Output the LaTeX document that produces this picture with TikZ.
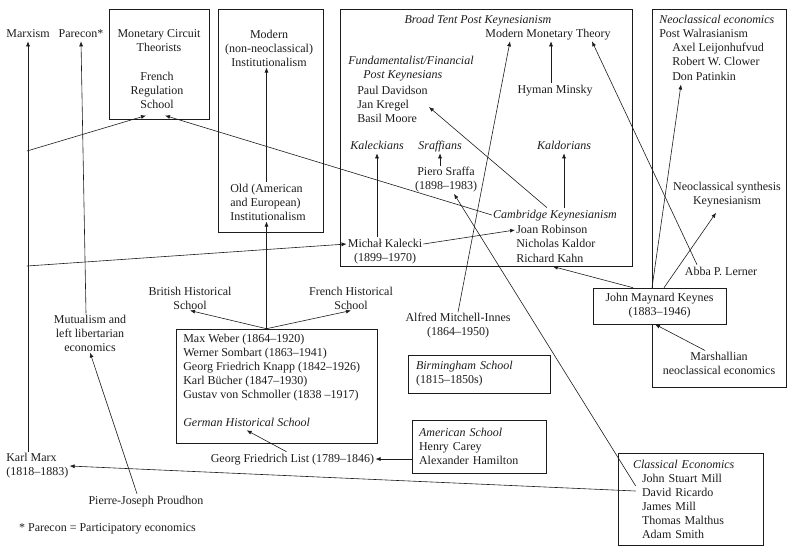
\documentclass[tikz,border=0pt]{standalone}
\usepackage{fontspec}
\setmainfont{Liberation Serif}
\usetikzlibrary{arrows.meta,positioning}
\definecolor{chartink}{HTML}{1C1C1C}
\tikzset{every picture/.append style={color=chartink}}
\newcommand{\chartfont}{\fontsize{12}{14}\selectfont}

\begin{document}
\begin{tikzpicture}[
  x=1pt, y=-1pt,
  >={Latex[length=5pt,width=4pt]},
  every path/.style={line width=0.6pt},
  frame/.style={draw, line width=0.6pt, inner sep=0pt},
  entry/.style={inner sep=1pt, text height=9pt, text depth=3pt, font=\chartfont},
  school/.style={entry, font=\chartfont\itshape},
  group/.style={inner sep=1pt, align=center, font=\chartfont},
]
\useasboundingbox (0,0) rectangle (799,558);

% --- Outer frames ---
\node[frame, minimum width=100pt, minimum height=110pt] (mctbox)     at (159,64)    {};
\node[frame, minimum width=105pt, minimum height=223pt] (instbox)    at (270.5,120.5) {};
\node[frame, minimum width=292pt, minimum height=257pt] (pkbox)      at (486,137.5) {};
\node[frame, minimum width=134pt, minimum height=378pt] (neobox)     at (719,198)   {};
\node[frame, minimum width=201pt, minimum height=114pt] (germanbox)  at (276.5,386) {};

% --- Top left ---
\node[entry] (marxism) at (28,34) {Marxism};
\node[entry] (parecon) at (81,34) {Parecon*};
\node[group] (mct) at (159,41) {Monetary Circuit\\Theorists};
\node[group] (frs) at (157,90) {French\\Regulation\\School};
\node[group] (modinst) at (269,48) {Modern\\(non-neoclassical)\\Institutionalism};
\node[group, align=left, anchor=west] (oldinst) at (229,202)
  {Old (American\\and European)\\Institutionalism};

% --- Post Keynesian frame ---
\node[school] (broad) at (478,20) {Broad Tent Post Keynesianism};
\node[entry] (mmt) at (548,34) {Modern Monetary Theory};
\node[group, align=left, anchor=west, font=\chartfont\itshape] (fund) at (347,69)
  {Fundamentalist/Financial\\\hspace*{15pt}Post Keynesians};
\node[group, align=left, anchor=west] (davidson) at (356,104)
  {Paul Davidson\\Jan Kregel\\Basil Moore};
\node[entry] (minsky) at (555,90) {Hyman Minsky};
\node[school] (kaleckians) at (377,146) {Kaleckians};
\node[school] (sraffians) at (440,146) {Sraffians};
\node[school] (kaldorians) at (564,146) {Kaldorians};
\node[group] (sraffa) at (446,180) {Piero Sraffa\\(1898–1983)};
\node[school] (cambridge) at (555,215) {Cambridge Keynesianism};
\node[entry, anchor=west] (robinson) at (515,230) {Joan Robinson};
\node[entry, below=0pt of robinson.south west, anchor=north west] (kaldor) {Nicholas Kaldor};
\node[entry, below=0pt of kaldor.south west, anchor=north west] (kahn) {Richard Kahn};
\node[entry] (kalecki) at (385,244) {Michał Kalecki};
\node[entry, below=0pt of kalecki] (kaleckidates) {(1899–1970)};

% --- Neoclassical frame ---
\node[school, anchor=west] (neoclass) at (658,20) {Neoclassical economics};
\node[entry, anchor=west] (walras) at (658,34) {Post Walrasianism};
\node[entry, anchor=west] (leijon) at (671,48) {Axel Leijonhufvud};
\node[entry, below=0pt of leijon.south west, anchor=north west] (clower) {Robert W. Clower};
\node[entry, below=0pt of clower.south west, anchor=north west] (patinkin) {Don Patinkin};
\node[group] (synth) at (727,195) {Neoclassical synthesis\\Keynesianism};
\node[entry] (lerner) at (721,272) {Abba P. Lerner};
\node[group, frame, fill=white, minimum width=133pt, minimum height=36pt] (keynes)
  at (659.5,306) {John Maynard Keynes\\(1883–1946)};
\node[group] (marshall) at (719,363) {Marshallian\\neoclassical economics};

% --- Middle and bottom right ---
\node[group] (mitchell) at (458,326) {Alfred Mitchell-Innes\\(1864–1950)};
\node[frame, group, align=left, text width=126pt, inner xsep=8pt, minimum height=38pt]
  (birmingham) at (479,374) {\textit{Birmingham School}\\(1815–1850s)};
\node[frame, group, align=left, text width=120pt, inner xsep=7pt, minimum height=53pt]
  (american) at (479,446.5) {\textit{American School}\\Henry Carey\\Alexander Hamilton};
\node[frame, group, align=left, text width=115pt, inner xsep=15pt, minimum height=92pt]
  (classical) at (690.5,499) {\textit{Classical Economics}\\\hspace*{9pt}John Stuart Mill\\
  \hspace*{9pt}David Ricardo\\\hspace*{9pt}James Mill\\\hspace*{9pt}Thomas Malthus\\
  \hspace*{9pt}Adam Smith};

% --- Historical schools ---
\node[group] (british) at (190,298) {British Historical\\School};
\node[group] (frenchhist) at (351,298) {French Historical\\School};
\node[group, align=left, anchor=west] (germannames) at (182,368)
  {Max Weber (1864–1920)\\Werner Sombart (1863–1941)\\Georg Friedrich Knapp (1842–1926)\\
   Karl Bücher (1847–1930)\\Gustav von Schmoller (1838 –1917)};
\node[school, anchor=west] (ghs) at (182,423) {German Historical School};
\node[entry] (list) at (292.5,459) {Georg Friedrich List (1789–1846)};

% --- Bottom left ---
\node[group, align=left, anchor=west] (marx) at (5,466) {Karl Marx\\(1818–1883)};
\node[group] (mutualism) at (90,333) {Mutualism and\\left libertarian\\economics};
\node[entry] (proudhon) at (146,501) {Pierre-Joseph Proudhon};
\node[entry] (footnote) at (107.5,528) {* Parecon = Participatory economics};

% --- Marx line and its branches ---
\coordinate (mxfrs) at (27,151);
\coordinate (mxkal) at (27,266);
\draw[->] (marxism.south |- marx.north) -- (marxism.south);
\draw[->] (mxfrs) -- ([xshift=-11pt,yshift=-6pt]frs.south);
\draw[->] (mxkal) -- (kalecki.west);
\draw[->] ([xshift=-4pt]mutualism.north) -- (parecon.south);
\draw[->] ([xshift=-9pt]proudhon.north) -- (mutualism.south);

% --- German historical school ---
\coordinate (gsplit) at ([xshift=-10pt]germanbox.north);
\draw[->] (gsplit) -- (gsplit |- oldinst.south);
\draw[->] (gsplit |- oldinst.north) -- (gsplit |- modinst.south);
\draw[->] (gsplit) -- (british.south);
\draw[->] (gsplit) -- (frenchhist.south);
\draw[->] ([xshift=-6pt]list.north) -- (ghs.south);
\draw[->] (american.west |- list.east) -- (list.east);

% --- Classical economics ---
\draw[->] ([xshift=18pt,yshift=8pt]classical.west) -- (marx.east);
\draw[->] ([xshift=18pt,yshift=13pt]classical.west) -- ([xshift=8pt]sraffa.south);

% --- Post Keynesian links ---
\draw[->] ([xshift=-4pt]minsky.north) -- ([xshift=-4pt]minsky.north |- mmt.south);
\draw[->] (mitchell.north) -- ([xshift=-38pt]mmt.south);
\draw[->] ([xshift=-24pt]lerner.north) -- ([xshift=-20pt]mmt.south east);
\draw[->] (kaleckians.south |- kalecki.north) -- (kaleckians.south);
\draw[->] (sraffians.south |- sraffa.north) -- (sraffians.south);
\draw[->] (kaldorians.south |- cambridge.north) -- (kaldorians.south);
\draw[->] (kalecki.east) -- (robinson.west);
\draw[->] ([xshift=-8pt]cambridge.north) -- ([yshift=-3pt]davidson.east);
\draw[->] (cambridge.west) -- ([xshift=8pt,yshift=-6pt]frs.south);

% --- Keynes ---
\draw[->] ([xshift=-26.5pt]keynes.north) -- ([xshift=3pt]kahn.south);
\draw[->] ([xshift=-7.5pt]keynes.north) -- ([xshift=10pt]patinkin.south west);
\draw[->] ([xshift=4.5pt]keynes.north) -- ([xshift=-11pt,yshift=-4pt]synth.south);
\draw[->] ([xshift=-14pt]marshall.north) -- ([xshift=-4.5pt]keynes.south);
\end{tikzpicture}
\end{document}
